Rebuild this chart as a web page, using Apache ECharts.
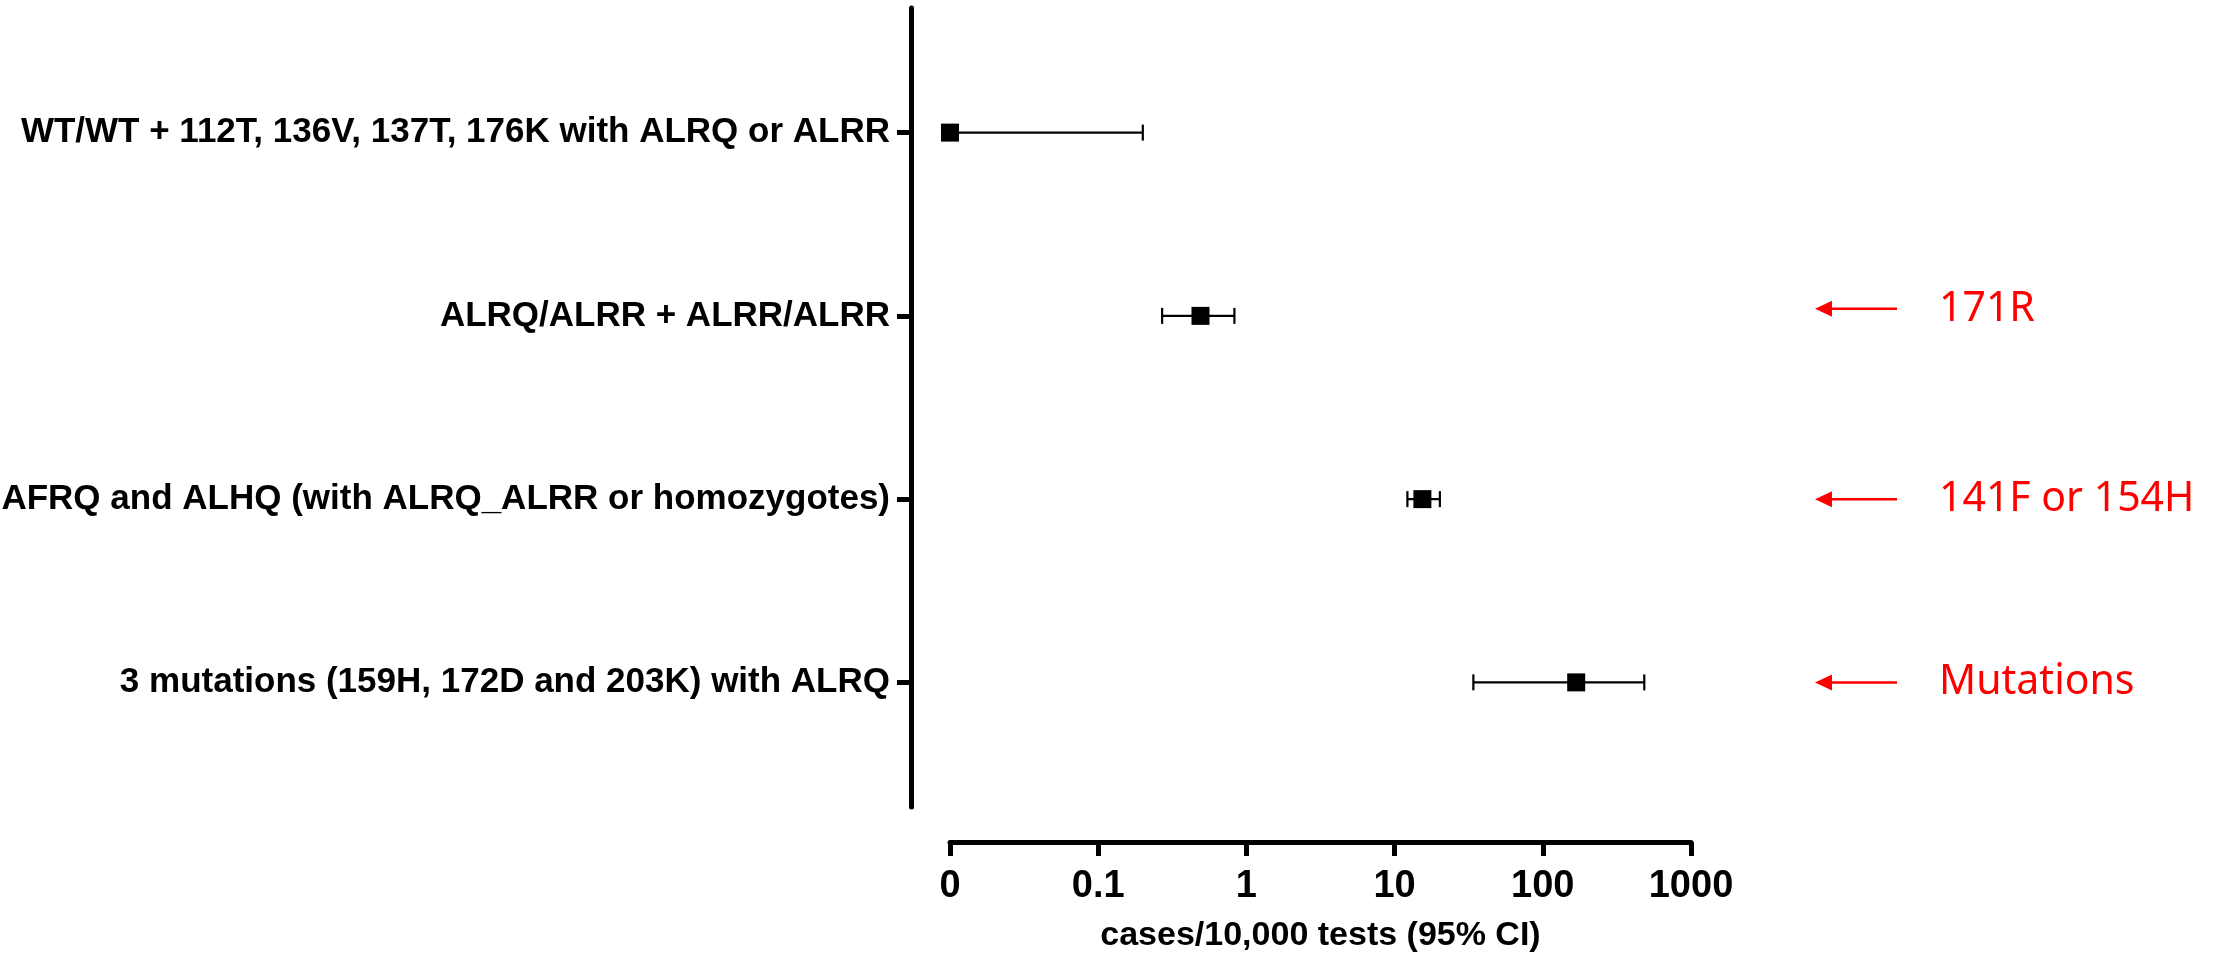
<!DOCTYPE html>
<html>
<head>
<meta charset="utf-8">
<script src="https://cdn.jsdelivr.net/npm/echarts@6/dist/echarts.min.js"></script>
<style>
  html, body { margin: 0; padding: 0; background: #fff; }
  #forestChart { width: 2223px; height: 955px; }
</style>
</head>
<body>
<div id="forestChart"></div>
<script>
// rows, top to bottom
const categories = [
  'WT/WT + 112T, 136V, 137T, 176K with ALRQ or ALRR',
  'ALRQ/ALRR + ALRR/ALRR',
  'AFRQ and ALHQ (with ALRQ_ALRR or homozygotes)',
  '3 mutations (159H, 172D and 203K) with ALRQ'
]
// cases / 10,000 tests with 95% CI
const estimates = [0, 0.49, 15.4, 168]
const lowerCI = [0, 0.27, 12.2, 34]
const upperCI = [0.2, 0.83, 20.2, 484]

const xTickLabels = ['0', '0.1', '1', '10', '100', '1000']
const xMin = 0.01 // "0" sits at the floor of the log axis
const xMax = 1000

// red notes on the right, by row
const noteRows = [2, 3, 4]
const noteTexts = ['171R', '141F or 154H', 'Mutations']

const floorVal = v => (v <= 0 ? xMin : v)

const pointData = estimates.map((v, i) => [floorVal(v), i + 1])
const ciData = estimates.map((v, i) => [floorVal(lowerCI[i]), floorVal(upperCI[i]), i + 1])

let chart = echarts.init(document.getElementById('forestChart'))
chart.setOption({
  animation: false,
  backgroundColor: '#fff',
  grid: { left: 950, right: 532, top: 8, bottom: 148, outerBoundsMode: 'none', containLabel: false },
  xAxis: {
    type: 'log',
    logBase: 10,
    min: xMin,
    max: xMax,
    interval: 1,
    offset: 35,
    axisLine: { show: true, lineStyle: { color: '#000', width: 5 } },
    axisTick: { show: true, length: 14, lineStyle: { color: '#000', width: 5 } },
    minorTick: { show: false },
    splitLine: { show: false },
    axisLabel: {
      margin: 26,
      color: '#000',
      fontFamily: 'Liberation Sans Narrow, Arial Narrow, sans-serif',
      fontWeight: 'bold',
      fontSize: 38,
      formatter: v => xTickLabels[Math.round(Math.log10(v)) + 2]
    },
    name: 'cases/10,000 tests (95% CI)',
    nameLocation: 'middle',
    nameGap: 77,
    nameTextStyle: {
      color: '#000',
      fontFamily: 'Liberation Sans Narrow, Arial Narrow, sans-serif',
      fontWeight: 'bold',
      fontSize: 34
    }
  },
  yAxis: {
    type: 'value',
    inverse: true,
    min: 0.32,
    max: 4.68,
    offset: 39,
    axisLine: { show: true, lineStyle: { color: '#000', width: 5 } },
    axisTick: { show: true, length: 14, customValues: [1, 2, 3, 4], lineStyle: { color: '#000', width: 5 } },
    splitLine: { show: false },
    axisLabel: {
      customValues: [1, 2, 3, 4],
      margin: 21,
      color: '#000',
      fontFamily: 'Liberation Sans, Arial, sans-serif',
      fontWeight: 'bold',
      fontSize: 35,
      formatter: v => categories[Math.round(v) - 1]
    }
  },
  series: [
    {
      name: 'CI',
      type: 'custom',
      data: ciData,
      renderItem: function (params, api) {
        let lo = api.coord([api.value(0), api.value(2)])
        let hi = api.coord([api.value(1), api.value(2)])
        let capH = 8
        let style = { stroke: '#000', lineWidth: 2.2 }
        return {
          type: 'group',
          children: [
            { type: 'line', shape: { x1: lo[0], y1: lo[1], x2: hi[0], y2: hi[1] }, style: style },
            { type: 'line', shape: { x1: lo[0], y1: lo[1] - capH, x2: lo[0], y2: lo[1] + capH }, style: style },
            { type: 'line', shape: { x1: hi[0], y1: hi[1] - capH, x2: hi[0], y2: hi[1] + capH }, style: style }
          ]
        }
      },
      z: 2
    },
    {
      name: 'Estimate',
      type: 'scatter',
      symbol: 'rect',
      symbolSize: 18,
      itemStyle: { color: '#000', opacity: 1 },
      data: pointData,
      clip: false,
      z: 3
    },
    {
      name: 'Notes',
      type: 'custom',
      data: noteRows.map(r => [xMin, r]),
      renderItem: function (params, api) {
        let y = api.coord([api.value(0), api.value(1)])[1] + (params.dataIndex === 0 ? -7 : 0)
        let tipX = 1815
        let endX = 1897
        return {
          type: 'group',
          children: [
            { type: 'line', shape: { x1: tipX + 10, y1: y, x2: endX, y2: y }, style: { stroke: '#ff0000', lineWidth: 2.5 } },
            { type: 'polygon', shape: { points: [[tipX, y], [tipX + 17, y - 8], [tipX + 17, y + 8]] }, style: { fill: '#ff0000' } },
            {
              type: 'text',
              x: 1939,
              y: y,
              style: {
                text: noteTexts[params.dataIndex],
                fill: '#ff0000',
                font: '41px "Noto Sans", sans-serif',
                textAlign: 'left',
                textVerticalAlign: 'middle'
              }
            }
          ]
        }
      },
      z: 4
    }
  ]
})
</script>
</body>
</html>
